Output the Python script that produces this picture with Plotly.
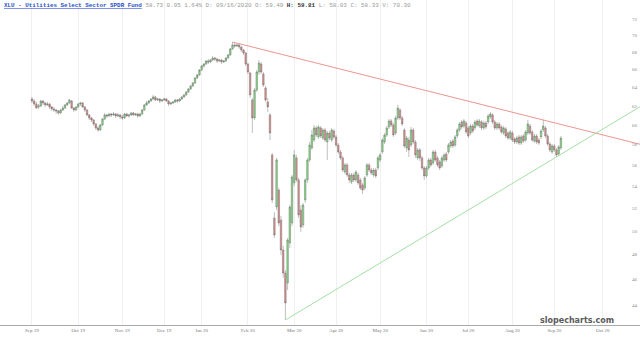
import math
import plotly.graph_objects as go

# ---------------- data (daily candles, index = trading day) ----------------
opens = [62.74,62.52,62.20,61.88,61.99,62.52,62.31,62.10,62.20,61.88,
61.67,61.56,61.46,61.25,61.56,61.77,62.10,62.31,62.52,61.77,
61.56,61.88,62.20,62.31,61.88,61.56,61.04,60.72,60.51,60.10,
59.69,59.48,60.00,60.62,61.04,60.93,61.14,61.04,61.14,60.93,
61.04,60.83,60.72,61.14,60.93,61.04,61.25,61.04,61.14,60.93,
61.14,61.56,62.10,62.31,62.52,62.74,62.96,62.63,62.74,62.52,
62.63,62.74,62.52,62.20,62.31,62.42,62.63,62.52,62.74,62.96,
63.18,63.50,63.83,64.16,64.49,65.05,65.39,65.95,66.41,66.63,
66.98,66.86,67.09,67.32,67.21,66.98,67.09,66.86,66.98,67.32,
67.68,68.38,68.85,68.73,68.85,68.61,68.26,67.91,66.63,65.61,
62.63,60.72,63.72,65.72,66.63,65.50,63.94,62.42,61.04,56.98,
51.12,52.10,53.64,50.94,48.38,46.50,45.71,48.97,50.68,54.30,
56.69,54.58,51.83,50.51,52.73,54.58,56.49,57.67,58.46,59.69,
58.77,59.69,58.66,59.48,58.26,59.17,58.46,59.38,58.77,57.96,
57.27,56.69,55.33,56.01,55.05,54.39,55.05,54.58,55.05,54.58,
54.11,53.83,55.05,56.01,55.52,55.05,55.52,55.72,56.49,57.27,
58.26,58.97,59.79,60.41,60.00,59.17,60.72,61.56,60.72,59.48,
57.67,58.46,57.96,59.48,58.26,56.69,57.47,56.69,55.72,54.96,
55.72,56.49,56.20,57.27,56.69,56.30,55.91,56.49,57.08,57.27,
57.87,58.36,57.96,58.87,59.48,60.30,59.89,60.20,59.69,59.17,
59.89,59.69,60.41,59.89,60.30,59.69,60.20,60.30,60.83,61.04,
60.30,59.69,60.10,59.79,59.17,59.58,59.17,58.66,59.17,58.56,
58.26,58.77,58.16,58.87,58.46,59.17,59.89,59.28,58.36,58.87,
58.46,58.77,59.48,59.69,58.87,58.06,57.27,57.87,57.47,57.08,
57.67]

closes = [62.52,62.20,61.77,61.99,62.52,62.31,62.10,62.20,61.88,61.67,
61.56,61.46,61.25,61.56,61.77,62.10,62.31,62.63,61.77,61.56,
61.88,62.20,62.31,61.88,61.56,61.04,60.72,60.51,60.10,59.69,
59.48,60.00,60.62,61.04,60.93,61.14,61.04,61.14,60.93,61.04,
60.83,60.72,61.14,60.93,61.04,61.25,61.04,61.14,60.93,61.14,
61.56,62.10,62.31,62.52,62.74,62.96,62.63,62.74,62.52,62.63,
62.74,62.52,62.20,62.31,62.42,62.63,62.52,62.74,62.96,63.18,
63.50,63.83,64.16,64.49,65.05,65.39,65.95,66.41,66.63,66.98,
66.86,67.09,67.32,67.21,66.98,67.09,66.86,66.98,67.32,67.68,
68.38,68.85,68.73,68.85,68.61,68.26,67.91,66.63,65.72,63.18,
60.72,63.72,65.72,66.75,65.72,64.27,62.63,61.88,59.17,52.73,
49.65,56.49,50.68,48.38,46.50,44.16,49.22,52.10,54.86,56.98,
54.58,51.39,50.34,52.28,54.58,56.49,57.96,58.97,59.69,58.97,
59.79,58.87,59.48,58.46,59.17,58.66,59.48,58.77,57.96,57.27,
56.69,55.52,56.01,55.05,54.58,55.05,54.58,55.33,54.30,53.83,
53.64,54.77,56.01,55.52,55.24,55.52,54.96,56.69,56.98,58.46,
58.97,59.69,60.41,60.00,58.97,60.72,61.77,60.72,60.10,57.87,
58.66,57.47,59.48,58.26,56.98,57.47,56.69,55.72,54.96,55.72,
56.49,56.01,57.27,56.49,56.01,55.72,56.69,56.98,56.49,57.96,
58.26,57.87,58.77,59.48,60.10,59.79,60.41,59.28,58.87,59.89,
59.38,60.30,60.00,60.41,59.69,60.20,59.79,60.93,61.14,60.30,
59.69,60.10,59.69,59.28,59.69,58.87,58.66,59.28,58.46,58.26,
58.66,58.16,58.77,58.36,59.28,60.10,59.17,58.46,58.87,58.26,
58.16,59.38,59.89,58.87,58.06,57.47,57.87,57.47,56.98,57.77,
58.66]

highs = [62.96,62.74,62.42,62.20,62.63,62.63,62.42,62.42,62.31,61.99,
61.88,61.67,61.56,61.67,61.99,62.20,62.42,62.74,62.63,61.88,
61.99,62.31,62.42,62.42,61.99,61.67,61.14,60.83,60.62,60.20,
59.89,60.10,60.72,61.25,61.14,61.25,61.25,61.35,61.25,61.25,
61.14,61.04,61.25,61.25,61.14,61.35,61.35,61.25,61.25,61.25,
61.67,62.20,62.52,62.63,62.85,63.18,63.07,62.85,62.85,62.74,
62.85,62.85,62.63,62.42,62.52,62.74,62.74,62.85,63.07,63.29,
63.61,63.94,64.27,64.60,65.16,65.50,66.06,66.52,66.75,67.09,
67.21,67.21,67.56,67.44,67.32,67.21,67.21,67.09,67.44,67.79,
68.50,69.20,69.09,68.97,68.97,68.73,68.38,68.03,66.75,65.72,
62.85,63.94,65.95,67.09,66.86,65.72,64.16,62.85,61.25,57.18,
51.65,56.69,53.83,51.30,48.72,46.74,49.39,52.28,55.05,57.47,
56.98,54.77,52.28,52.46,54.77,56.69,58.26,59.48,60.00,59.89,
60.00,59.89,59.69,59.69,59.38,59.38,59.69,59.58,58.97,58.16,
57.47,56.88,56.20,56.20,55.24,55.24,55.24,55.52,55.24,54.77,
54.30,54.96,56.20,56.20,55.72,55.72,55.72,56.88,57.18,58.66,
59.17,59.89,60.62,60.62,60.20,60.93,62.10,61.77,60.93,59.69,
58.87,58.77,59.79,59.69,58.46,57.67,57.67,56.88,55.91,55.91,
56.69,56.69,57.47,57.47,56.88,56.49,56.88,57.18,57.27,58.16,
58.46,58.56,58.97,59.69,60.30,60.51,60.62,60.41,59.89,60.10,
60.10,60.51,60.62,60.62,60.51,60.41,60.41,61.14,61.35,61.25,
60.51,60.30,60.30,60.00,59.89,59.79,59.38,59.48,59.38,58.77,
58.87,58.97,58.97,59.07,59.48,60.51,60.10,59.48,59.07,59.07,
58.66,59.58,60.51,59.89,59.07,58.26,58.06,58.06,57.67,57.96,
58.87]

lows = [62.31,61.99,61.67,61.67,61.88,62.10,61.88,61.99,61.67,61.46,
61.35,61.14,61.04,61.14,61.46,61.67,61.99,62.20,61.67,61.35,
61.46,61.77,61.99,61.77,61.35,60.93,60.51,60.30,59.89,59.48,
59.28,59.38,59.89,60.51,60.72,60.83,60.83,60.93,60.72,60.83,
60.62,60.51,60.62,60.83,60.72,60.93,60.93,60.93,60.72,60.83,
61.04,61.46,61.99,62.20,62.42,62.63,62.52,62.52,62.31,62.42,
62.52,62.42,61.99,62.10,62.20,62.31,62.31,62.42,62.63,62.85,
63.07,63.39,63.72,64.05,64.38,64.93,65.27,65.84,66.18,66.52,
66.63,66.75,66.98,66.98,66.75,66.86,66.63,66.75,66.86,67.21,
67.56,68.26,68.50,68.61,68.38,68.03,67.68,66.41,65.50,62.85,
59.17,60.51,63.50,65.39,65.50,64.05,62.42,61.35,58.46,52.46,
49.39,51.83,50.42,47.97,46.11,42.89,45.16,48.55,50.42,54.02,
54.39,51.12,49.91,50.25,52.46,54.30,56.30,57.47,58.26,58.77,
58.56,58.66,58.46,58.26,56.49,58.46,58.26,58.56,57.77,57.08,
56.49,55.33,55.14,54.86,54.30,54.20,54.39,54.39,54.11,53.64,
53.28,53.64,54.86,55.33,55.05,54.86,54.77,55.52,56.30,57.08,
58.06,58.77,59.58,59.79,58.77,58.97,60.51,60.51,59.89,57.67,
57.27,56.78,57.77,58.06,56.69,56.49,56.39,55.52,54.58,54.77,
55.52,55.81,56.01,56.30,55.81,55.52,55.72,56.30,56.30,57.08,
57.67,57.67,57.77,58.66,59.28,59.58,59.69,59.07,58.66,58.97,
59.17,59.48,59.79,59.69,59.48,59.48,59.58,60.10,60.62,60.10,
59.48,59.48,59.48,59.07,58.97,58.66,58.46,58.46,58.26,58.06,
58.06,57.96,57.96,58.16,58.26,58.97,58.97,58.26,58.16,58.06,
57.96,58.56,59.28,58.66,57.87,57.27,57.08,57.27,56.78,56.88,
57.47]

day_index = list(range(len(closes)))

# month tick labels (positions in trading-day index)
month_ticks = [0, 21, 41, 60, 77, 98, 119, 138, 158, 179, 198, 218, 237, 259]
month_labels = ["Sep 19", "Oct 19", "Nov 19", "Dec 19", "Jan 20", "Feb 20", "Mar 20",
                "Apr 20", "May 20", "Jun 20", "Jul 20", "Aug 20", "Sep 20", "Oct 20"]

price_ticks = [72, 70, 68, 66, 64, 62, 60, 58, 56, 54, 52, 50, 48, 46, 44]

# trendline anchors (index, price)
red_anchor_x = [91, 232]
red_anchor_y = [69.20, 60.51]
green_anchor_x = [115, 238]
green_anchor_y = [42.89, 56.78]

x_range = [-14.5, 275.9]
y_range = [42.52, 74.39]

def extend(ax, ay, x_end):
    l1, l2 = math.log(ay[0]), math.log(ay[1])
    s = (l2 - l1) / (ax[1] - ax[0])
    return [ax[0], x_end], [ay[0], math.exp(l1 + s * (x_end - ax[0]))]

fig = go.Figure()

rx, ry = extend(red_anchor_x, red_anchor_y, x_range[1])
gx, gy = extend(green_anchor_x, green_anchor_y, x_range[1])
fig.add_trace(go.Scatter(x=rx, y=ry, mode="lines", line=dict(color="#ea7a74", width=0.8),
                         hoverinfo="skip", showlegend=False, cliponaxis=False))
fig.add_trace(go.Scatter(x=gx, y=gy, mode="lines", line=dict(color="#8cd88c", width=0.8),
                         hoverinfo="skip", showlegend=False, cliponaxis=False))

fig.add_trace(go.Candlestick(
    x=day_index, open=opens, high=highs, low=lows, close=closes,
    increasing=dict(fillcolor="#7fdc7f", line=dict(color="#707070", width=0.45)),
    decreasing=dict(fillcolor="#dc8a8a", line=dict(color="#707070", width=0.45)),
    whiskerwidth=0, showlegend=False, hoverinfo="skip"))

fig.update_layout(
    width=640, height=338,
    margin=dict(l=0, r=0, t=0, b=13),
    paper_bgcolor="white", plot_bgcolor="white",
    showlegend=False,
    boxgap=0.0,
    xaxis=dict(range=x_range, tickmode="array", tickvals=month_ticks, ticktext=month_labels,
               showgrid=True, gridcolor="#f0f0f0", gridwidth=1, zeroline=False,
               showline=True, linecolor="#aaaaaa", linewidth=1, ticks="",
               tickfont=dict(family="Liberation Serif", size=5, color="#777777"),
               rangeslider=dict(visible=False), fixedrange=True),
    yaxis=dict(type="log", range=[math.log10(y_range[0]), math.log10(y_range[1])],
               tickmode="array", tickvals=price_ticks, ticktext=[str(v) for v in price_ticks],
               side="right", ticklabelposition="inside", showgrid=False, zeroline=False,
               showline=False, ticks="",
               tickfont=dict(family="Liberation Serif", size=5, color="#888888")),
)

header = ("<b><span style='color:#2a4fc8;text-decoration:underline'>XLU - Utilities Select Sector SPDR Fund</span></b>"
          "<span style='color:#999999'> 58.73 0.95 1.64% D: 09/16/2020 O: 59.49 </span>"
          "<b><span style='color:#333333'>H: 59.81</span></b>"
          "<span style='color:#999999'> L: 58.03 C: 58.33 V: 70.30</span>")
fig.add_annotation(text=header, xref="paper", yref="paper", x=0.003, y=1 - 5.5 / 325,
                   xanchor="left", yanchor="middle", showarrow=False,
                   font=dict(family="Liberation Mono", size=5.9, color="#999999"))

fig.add_annotation(text="<b>slopecharts.com</b>", xref="paper", yref="paper",
                   x=577 / 640, y=1 - 320 / 325, xanchor="center", yanchor="middle",
                   showarrow=False, font=dict(family="DejaVu Sans", size=8, color="#5a5a5a"))

fig.write_html("out.html")
